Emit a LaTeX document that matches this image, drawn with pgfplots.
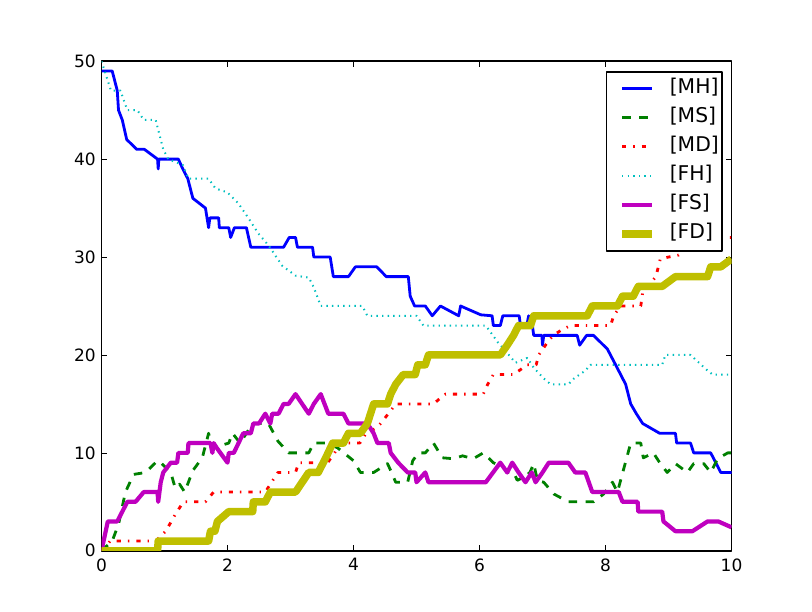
\documentclass[border=0pt]{standalone}
\usepackage{fontspec}
\setmainfont{DejaVu Sans}
\usepackage{pgfplots}
\pgfplotsset{compat=1.18}
\definecolor{mplb}{rgb}{0,0,1}
\definecolor{mplg}{rgb}{0,0.5,0}
\definecolor{mplr}{rgb}{1,0,0}
\definecolor{mplc}{rgb}{0,0.75,0.75}
\definecolor{mplm}{rgb}{0.75,0,0.75}
\definecolor{mply}{rgb}{0.75,0.75,0}
\begin{document}
\begin{tikzpicture}
\path[use as bounding box] (-101.5bp,-61.2bp) rectangle (710.5bp,550.8bp);
\begin{axis}[
  at={(0,0)}, anchor=south west,
  scale only axis, width=630bp, height=489.6bp,
  xmin=0, xmax=10, ymin=0, ymax=50,
  xtick={0,2,4,6,8,10}, ytick={0,10,20,30,40,50},
  tick align=inside, major tick length=5.6bp,
  tick style={line width=0.7bp, black},
  axis line style={line width=1.4bp},
  /pgf/number format/assume math mode=true,
  ticklabel style={font=\fontsize{17bp}{20bp}\selectfont},
  yticklabel style={inner sep=0pt, xshift=-5.5bp},
  xticklabel style={inner sep=0pt, yshift=-7.5bp},
  line join=round,
  legend cell align=left,
  legend style={at={(1,1)}, anchor=north east, xshift=-9bp, yshift=-10bp,
    draw=black, line width=1.4bp, inner xsep=3bp, inner ysep=7bp,
    row sep=9bp, column sep=14bp,
    font=\fontsize{20.3bp}{24bp}\selectfont,
    nodes={inner sep=0pt, text height=15bp, text depth=5bp}},
  legend image code/.code={\path (0bp,0bp); \draw[#1] (9bp,0bp) -- (39bp,0bp);},
]
\addplot[mplb, line width=2.8bp] coordinates {
(0,49)(0.17,49)(0.25,47)(0.27,45)(0.33,44)(0.4,42)(0.56,41)(0.68,41)(0.89,40)(0.9,39)(0.91,40)(1.22,40)(1.29,39)(1.37,38)(1.45,36)(1.65,35)(1.7,33)(1.72,34)(1.86,34)(1.87,33)(2.02,33)(2.05,32)(2.11,33)(2.3,33)(2.37,31)(2.89,31)(2.98,32)(3.08,32)(3.11,31)(3.35,31)(3.37,30)(3.63,30)(3.68,28)(3.92,28)(4.03,29)(4.37,29)(4.52,28)(4.87,28)(4.9,26)(4.97,25)(5.14,25)(5.25,24)(5.38,25)(5.67,24)(5.7,25)(6.02,24.1)(6.2,24)(6.22,23)(6.33,23)(6.37,24)(6.63,24)(6.65,23)(6.75,23)(6.78,24)(6.84,23)(6.86,22)(6.99,22)(7.0,21)(7.02,22)(7.55,22)(7.59,21)(7.7,22)(7.81,22)(8.03,20.6)(8.16,19)(8.32,17)(8.4,15)(8.49,14)(8.59,13)(8.86,12)(9.11,12)(9.13,11)(9.35,11)(9.4,10)(9.67,10)(9.83,8)(10,8)
};
\addlegendentry{[MH]}
\addplot[mplg, line width=2.8bp, dash pattern=on 8.5bp off 8.5bp] coordinates {
(0,0)(0.17,1)(0.27,2.7)(0.38,6)(0.51,7.8)(0.7,8)(0.89,9.2)(0.94,9)(1.1,8)(1.17,6.4)(1.24,6.8)(1.32,6)(1.45,8.2)(1.6,9.5)(1.7,12)(1.76,10.5)(2.02,11)(2.08,12)(2.2,11)(2.4,13)(2.65,13)(2.8,11.2)(2.97,10)(3.29,10)(3.37,11)(3.59,11)(3.75,10.5)(4.0,9.2)(4.11,8)(4.32,8)(4.54,8.9)(4.59,8.2)(4.67,7)(4.86,7)(4.94,9.2)(5.03,10)(5.14,10)(5.27,11)(5.41,9.5)(5.59,9.4)(5.73,9.7)(5.9,9.4)(6.06,10)(6.22,9)(6.38,8.5)(6.45,8)(6.54,8)(6.6,7.2)(6.7,7.5)(6.8,8)(6.86,8.9)(6.92,7.2)(7.02,7)(7.18,5.8)(7.41,5)(7.81,5)(7.97,5.8)(8.11,7)(8.19,6)(8.24,7.2)(8.4,11)(8.56,11)(8.6,9.5)(8.76,10)(8.87,8.9)(8.98,8)(9.11,8.9)(9.3,8)(9.4,8.9)(9.56,8.9)(9.67,8)(9.78,9.4)(9.94,10)(10,10)
};
\addlegendentry{[MS]}
\addplot[mplr, line width=2.8bp, dash pattern=on 4.2bp off 7bp on 1.4bp off 7bp] coordinates {
(0,0)(0.14,1)(0.86,1)(1.02,2)(1.17,3.7)(1.3,5)(1.65,5)(1.78,6)(2.6,6)(2.8,8)(3.08,8)(3.13,9)(3.59,9)(3.7,10)(3.79,11)(4.1,11)(4.2,12)(4.35,12.5)(4.43,13)(4.59,14.3)(4.67,15)(5.27,15)(5.38,15.6)(5.46,16)(6.06,16)(6.13,17)(6.22,18)(6.54,18)(6.76,19)(6.9,19)(6.94,20)(7.08,21.3)(7.17,22)(7.29,22.5)(7.44,23)(8.08,23)(8.13,24)(8.24,25)(8.56,25)(8.59,26.4)(8.67,27)(8.8,28)(8.87,29.8)(9.0,30)(9.16,30.2)(9.3,31)(9.5,32)(10,32)
};
\addlegendentry{[MD]}
\addplot[mplc, line width=2bp, dash pattern=on 1.4bp off 4.2bp] coordinates {
(0,50)(0.1,48)(0.15,47)(0.3,47)(0.41,45)(0.57,45)(0.67,44)(0.86,44)(0.9,43)(0.98,41)(1.06,40)(1.29,39.4)(1.38,38)(1.7,38)(1.81,37)(2.0,36.6)(2.17,35.5)(2.33,34)(2.49,32.4)(2.65,31.2)(2.87,29.1)(3.08,28.1)(3.29,27.9)(3.37,26.9)(3.48,25)(4.14,25)(4.22,24)(5.0,24)(5.11,23)(6.1,23)(6.29,21.3)(6.44,20.2)(6.57,19.2)(6.76,19.7)(6.86,18.7)(7.02,17.6)(7.13,17)(7.41,17)(7.5,17.6)(7.68,18.4)(7.76,19)(8.9,19)(8.95,20)(9.35,20)(9.62,18.4)(9.7,18)(10,18)
};
\addlegendentry{[FH]}
\addplot[mplm, line width=4.2bp] coordinates {
(0,0)(0.1,3)(0.25,3)(0.33,4)(0.41,5)(0.54,5)(0.67,6)(0.89,6)(0.9,5)(0.94,7)(0.98,8)(1.1,9)(1.2,9)(1.22,10)(1.37,10)(1.38,11)(1.73,11)(1.76,10)(1.78,11)(1.83,10.5)(2.0,9)(2.02,10)(2.1,10)(2.25,12)(2.37,12)(2.41,13)(2.5,13)(2.6,14)(2.68,13)(2.71,14)(2.81,14)(2.89,15)(2.97,15)(3.08,16)(3.29,14)(3.37,15)(3.48,16)(3.6,14)(3.84,14)(3.92,13)(4.22,13)(4.32,12)(4.38,11)(4.56,11)(4.59,10)(4.71,9)(4.86,8)(4.98,8)(5.0,7)(5.14,8)(5.19,7)(6.1,7)(6.33,9)(6.44,8)(6.52,9)(6.62,8)(6.73,7)(6.83,8)(6.89,7)(7.0,8)(7.1,9)(7.41,9)(7.52,8)(7.68,8)(7.79,6)(8.21,6)(8.27,5)(8.51,5)(8.52,4)(8.9,4)(8.92,3)(9.11,2)(9.38,2)(9.62,3)(9.79,3)(10,2.4)
};
\addlegendentry{[FS]}
\addplot[mply, line width=7.5bp] coordinates {
(0,0)(0.89,0)(0.9,1)(1.7,1)(1.73,2)(1.8,2)(1.84,3)(2.02,4)(2.4,4)(2.41,5)(2.6,5)(2.68,6)(3.08,6)(3.29,8)(3.44,8)(3.56,9.5)(3.67,11)(3.84,11)(3.92,12)(4.11,12)(4.22,13)(4.32,15)(4.54,15)(4.59,16)(4.67,17)(4.79,18)(4.98,18)(5.02,19)(5.14,19)(5.19,20)(6.33,20)(6.44,21)(6.54,22)(6.62,23)(6.81,23)(6.86,24)(7.71,24)(7.79,25)(8.19,25)(8.27,26)(8.44,26)(8.52,27)(8.9,27)(9.11,28)(9.62,28)(9.67,29)(9.83,29)(10,29.8)
};
\addlegendentry{[FD]}
\end{axis}
\end{tikzpicture}
\end{document}
